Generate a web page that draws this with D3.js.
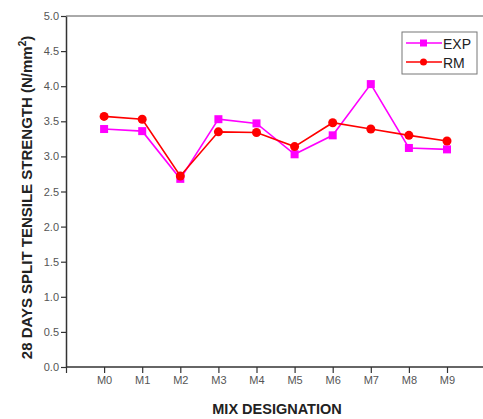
<!DOCTYPE html>
<html>
<head>
<meta charset="utf-8">
<script src="https://cdn.jsdelivr.net/npm/d3@7"></script>
<style>
  body { margin: 0; background: #fff; }
  svg { display: block; font-family: Arial, "Liberation Sans", sans-serif; }
</style>
</head>
<body>
<div id="viz"></div>
<script>
const mixes = ['M0', 'M1', 'M2', 'M3', 'M4', 'M5', 'M6', 'M7', 'M8', 'M9'];
const expValues = [3.39, 3.36, 2.68, 3.53, 3.47, 3.03, 3.30, 4.03, 3.12, 3.10];
const rmValues = [3.57, 3.53, 2.72, 3.35, 3.34, 3.14, 3.48, 3.39, 3.30, 3.22];
const yTicks = [0, 0.5, 1, 1.5, 2, 2.5, 3, 3.5, 4, 4.5, 5];

const colorExp = '#ff00ff';
const colorRm = '#ff0000';

const width = 483, height = 419;
const margin = {top: 16, right: 0, bottom: 52, left: 66};

const svg = d3.select('#viz').append('svg')
  .attr('width', width)
  .attr('height', height);

// x: index scale so that first category sits one step right of the y axis
const step = 38.1;
const xScale = d3.scaleLinear()
  .domain([-1, mixes.length])
  .range([margin.left, margin.left + step * (mixes.length + 1)]);

const yScale = d3.scaleLinear()
  .domain([0, 5])
  .range([height - margin.bottom, margin.top]);

const axisColor = '#333';

// top frame line
svg.append('line')
  .attr('x1', margin.left).attr('x2', width)
  .attr('y1', yScale(5)).attr('y2', yScale(5))
  .attr('stroke', '#555').attr('stroke-width', 1);

// y axis
const yAxis = svg.append('g')
  .attr('transform', `translate(${margin.left},0)`)
  .call(d3.axisLeft(yScale).tickValues(yTicks).tickFormat(d3.format('.1f')).tickSize(5).tickSizeOuter(0));
yAxis.select('.domain').attr('stroke', axisColor).attr('stroke-width', 1.5);
yAxis.selectAll('.tick line').attr('stroke', axisColor).attr('stroke-width', 1.2);
yAxis.selectAll('.tick text')
  .attr('fill', '#555').style('font-size', '11px').attr('x', -7);

// x axis
const xAxis = svg.append('g')
  .attr('transform', `translate(0,${yScale(0)})`)
  .call(d3.axisBottom(xScale).tickValues(d3.range(-1, mixes.length))
    .tickFormat(i => i >= 0 ? mixes[i] : '').tickSize(6).tickSizeOuter(0));
xAxis.select('.domain').attr('d', `M${margin.left},0H${width}`)
  .attr('stroke', axisColor).attr('stroke-width', 1.5);
xAxis.selectAll('.tick line').attr('stroke', axisColor).attr('stroke-width', 1.2);
xAxis.selectAll('.tick text')
  .attr('fill', '#555').style('font-size', '11px').attr('y', 9);

// axis titles
svg.append('text')
  .attr('x', 277).attr('y', 414)
  .attr('text-anchor', 'middle')
  .style('font-size', '14.5px').style('font-weight', 'bold').attr('fill', '#222')
  .text('MIX DESIGNATION');

const yTitle = svg.append('text')
  .attr('transform', `translate(32,${(yScale(0) + yScale(5)) / 2 + 6}) rotate(-90)`)
  .attr('text-anchor', 'middle')
  .style('font-size', '15px').style('font-weight', 'bold').attr('fill', '#222');
yTitle.append('tspan').text('28 DAYS SPLIT TENSILE STRENGTH (N/mm');
yTitle.append('tspan').attr('dy', -6).style('font-size', '10px').text('2');
yTitle.append('tspan').attr('dy', 6).text(')');

// series
const line = d3.line()
  .x((d, i) => xScale(i))
  .y(d => yScale(d));

svg.append('path')
  .attr('d', line(expValues))
  .attr('fill', 'none').attr('stroke', colorExp).attr('stroke-width', 1.6);

svg.append('path')
  .attr('d', line(rmValues))
  .attr('fill', 'none').attr('stroke', colorRm).attr('stroke-width', 1.6);

svg.append('g').selectAll('rect')
  .data(expValues)
  .join('rect')
  .attr('x', (d, i) => xScale(i) - 4)
  .attr('y', d => yScale(d) - 4)
  .attr('width', 8).attr('height', 8)
  .attr('fill', colorExp);

svg.append('g').selectAll('circle')
  .data(rmValues)
  .join('circle')
  .attr('cx', (d, i) => xScale(i))
  .attr('cy', d => yScale(d))
  .attr('r', 4.5)
  .attr('fill', colorRm);

// legend
const legend = svg.append('g').attr('transform', 'translate(402,32)');
legend.append('rect')
  .attr('width', 75).attr('height', 42)
  .attr('fill', '#fff').attr('stroke', '#777').attr('stroke-width', 1);

const legendItems = [
  {name: 'EXP', color: colorExp, shape: 'square'},
  {name: 'RM', color: colorRm, shape: 'circle'}
];
legendItems.forEach((item, i) => {
  const g = legend.append('g').attr('transform', `translate(0,${11 + i * 19})`);
  g.append('line')
    .attr('x1', 4).attr('x2', 40)
    .attr('stroke', item.color).attr('stroke-width', 1.6);
  if (item.shape === 'square') {
    g.append('rect').attr('x', 18).attr('y', -3.5).attr('width', 7).attr('height', 7).attr('fill', item.color);
  } else {
    g.append('circle').attr('cx', 21.5).attr('r', 3.5).attr('fill', item.color);
  }
  g.append('text')
    .attr('x', 41).attr('y', 5.5)
    .style('font-size', '14px').attr('fill', '#222')
    .text(item.name);
});
</script>
</body>
</html>
